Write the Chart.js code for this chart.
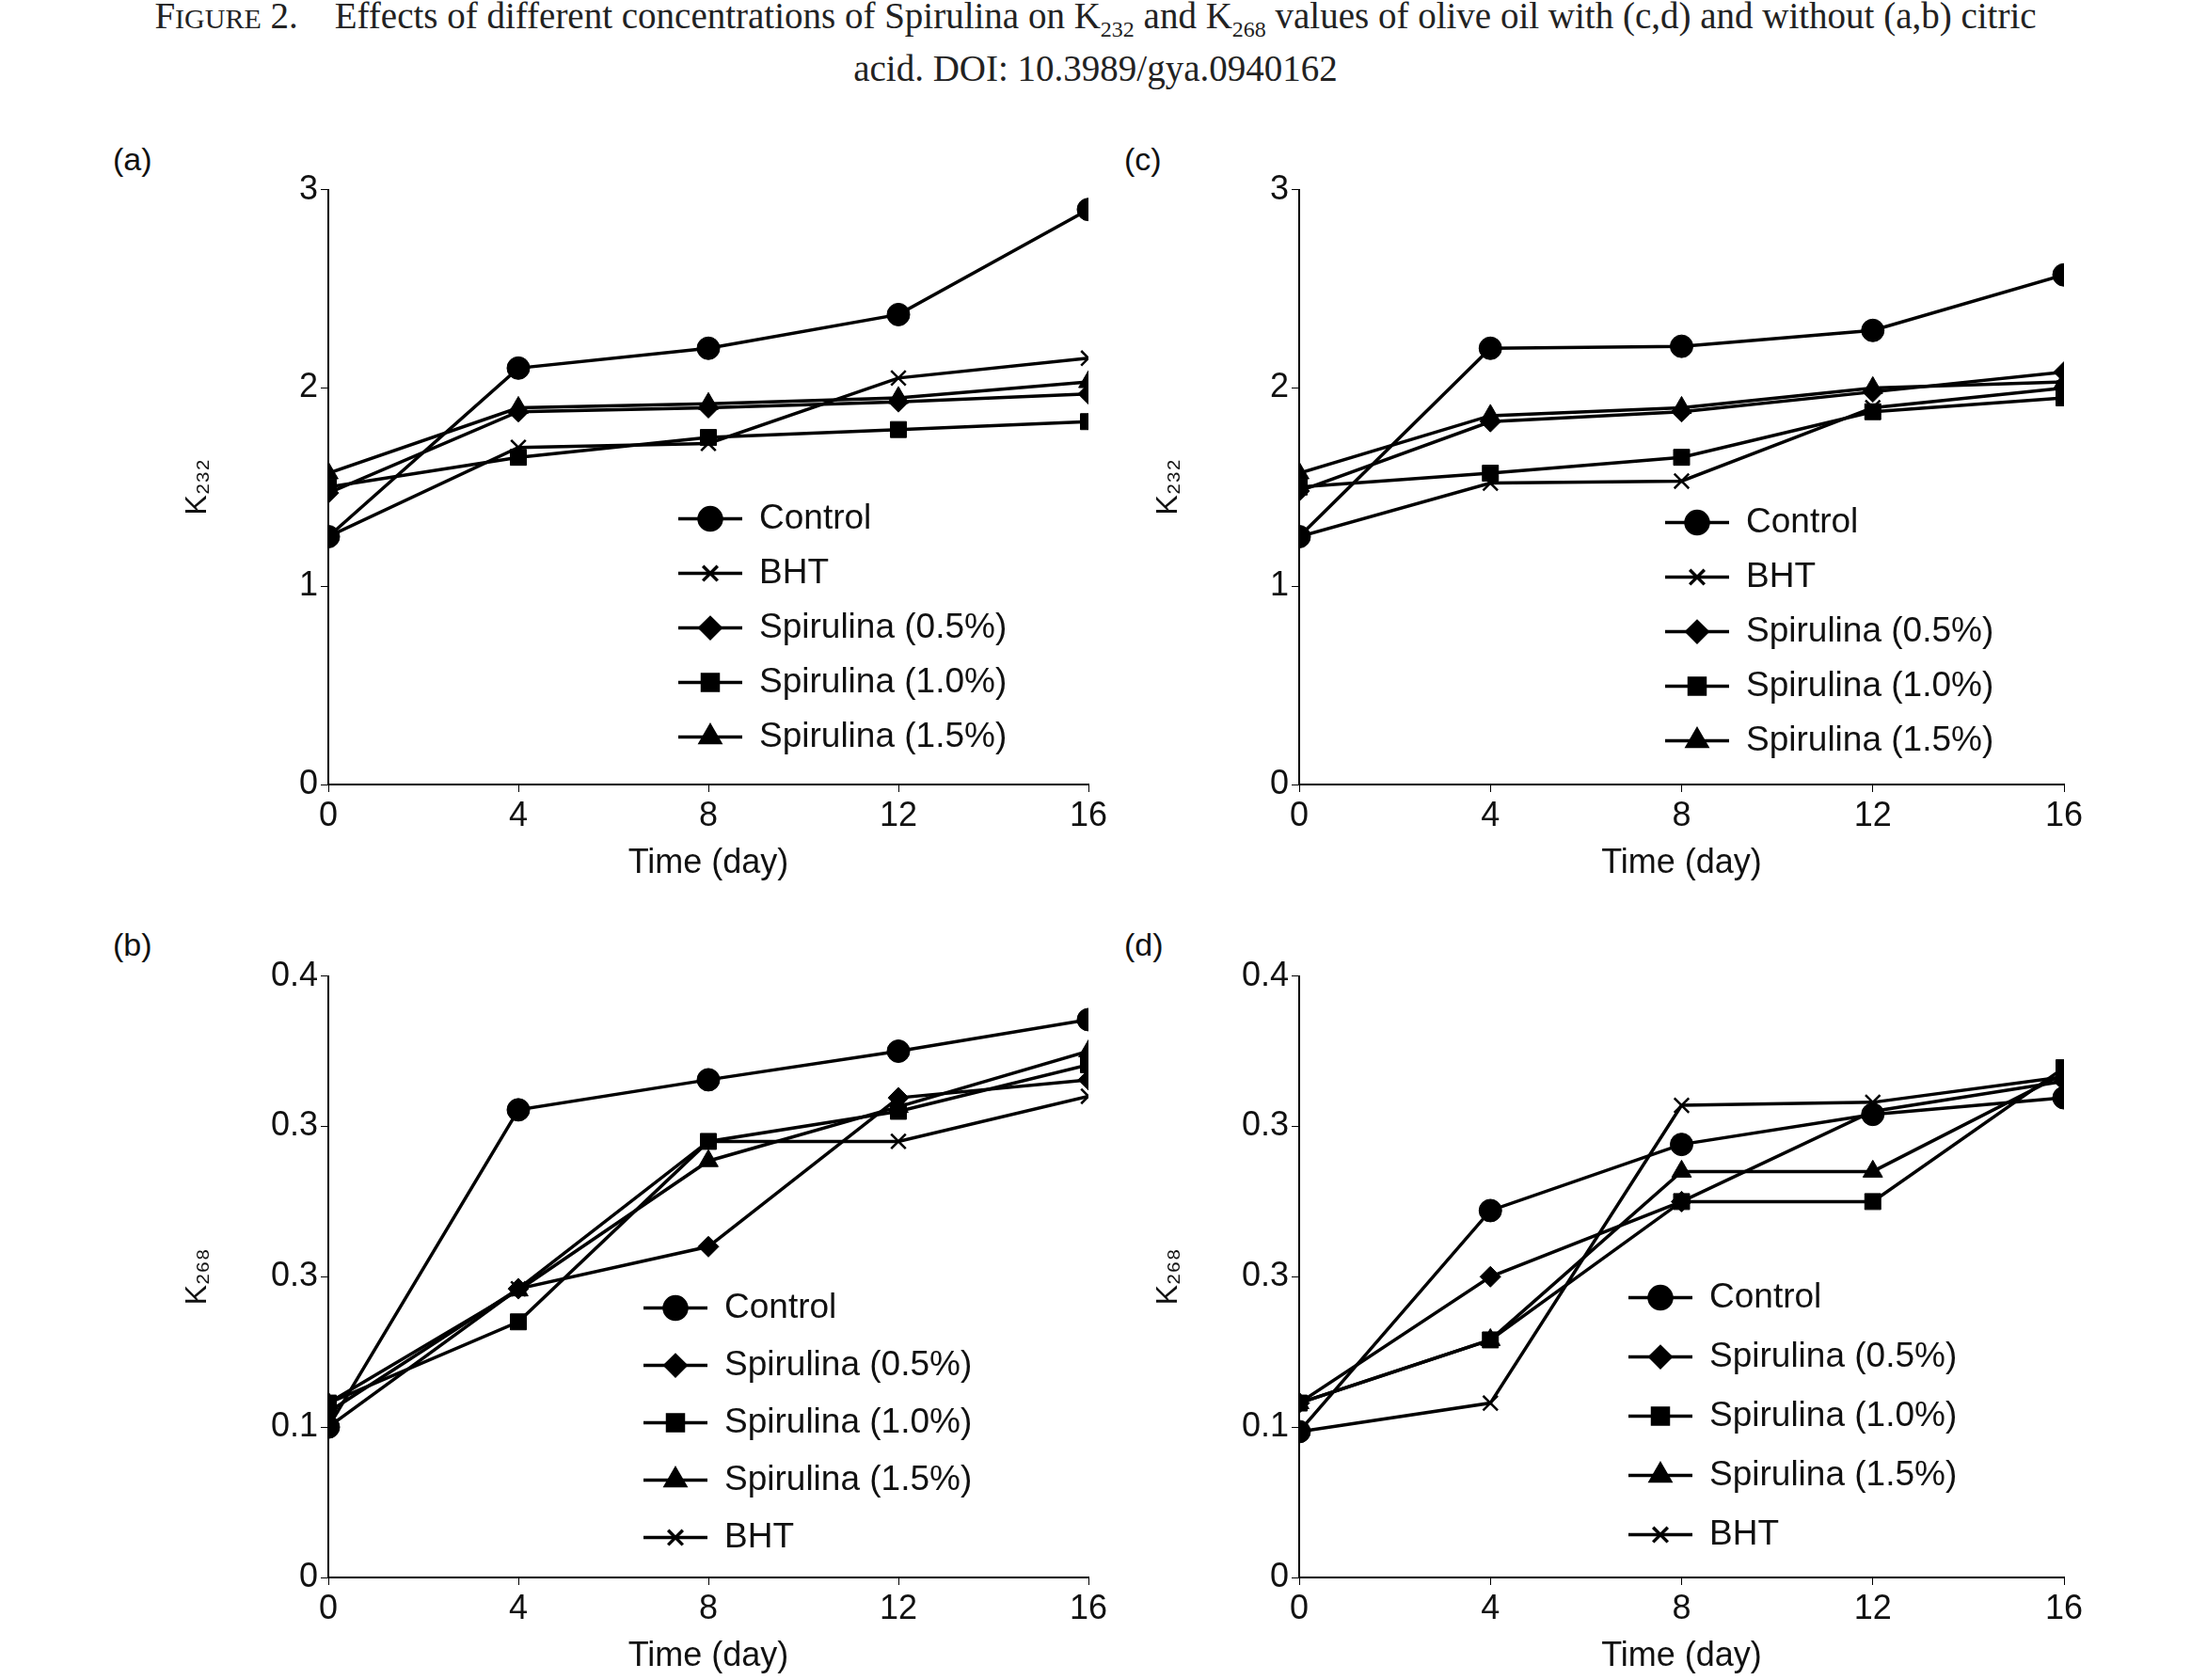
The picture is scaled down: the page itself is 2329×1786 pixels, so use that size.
<!DOCTYPE html>
<html><head><meta charset="utf-8">
<script src="https://cdn.jsdelivr.net/npm/chart.js@4"></script>
<style>
body{margin:0;background:#fff;width:2329px;height:1786px;position:relative;overflow:hidden;font-family:"Liberation Sans",Arial,sans-serif}
.t{position:absolute;left:0;width:2329px;text-align:center;font-family:"Liberation Serif",serif;font-size:39px;color:#222;line-height:42px}
.lab{position:absolute;font-size:34px;color:#111}
.c{position:absolute}
</style></head><body>
<div class="t" style="top:-4px">F<span style="font-size:30px">IGURE</span> 2.&nbsp;&nbsp;&nbsp; Effects of different concentrations of Spirulina on K<sub style="font-size:24px">232</sub> and K<sub style="font-size:24px">268</sub> values of olive oil with (c,d) and without (a,b) citric<br>acid. DOI: 10.3989/gya.0940162</div>
<div class="lab" style="left:120px;top:150px">(a)</div>
<div class="lab" style="left:1195px;top:150px">(c)</div>
<div class="lab" style="left:120px;top:985px">(b)</div>
<div class="lab" style="left:1195px;top:985px">(d)</div>
<canvas class="c" id="ca" style="left:187px;top:177px"></canvas>
<canvas class="c" id="cc" style="left:1219px;top:177px"></canvas>
<canvas class="c" id="cb" style="left:187px;top:1013px"></canvas>
<canvas class="c" id="cd" style="left:1219px;top:1013px"></canvas>
<script>
const days = [0, 4, 8, 12, 16];
const k268TickLabels = ['0', '0.1', '0.3', '0.3', '0.4'];
// Panel (a)
const aControl = [1.25, 2.10, 2.20, 2.37, 2.90];
const aBHT     = [1.25, 1.70, 1.72, 2.05, 2.15];
const aSp05    = [1.47, 1.88, 1.90, 1.93, 1.97];
const aSp10    = [1.50, 1.65, 1.75, 1.79, 1.83];
const aSp15    = [1.57, 1.90, 1.92, 1.95, 2.03];
// Panel (c)
const cControl = [1.25, 2.20, 2.21, 2.29, 2.57];
const cBHT     = [1.25, 1.52, 1.53, 1.90, 2.00];
const cSp05    = [1.48, 1.83, 1.88, 1.98, 2.08];
const cSp10    = [1.50, 1.57, 1.65, 1.88, 1.95];
const cSp15    = [1.57, 1.86, 1.90, 2.00, 2.03];
// Panel (b)
const bControl = [0.100, 0.311, 0.331, 0.350, 0.371];
const bSp05    = [0.110, 0.192, 0.220, 0.319, 0.331];
const bSp10    = [0.116, 0.170, 0.290, 0.310, 0.341];
const bSp15    = [0.116, 0.191, 0.277, 0.313, 0.350];
const bBHT     = [0.100, 0.192, 0.290, 0.290, 0.320];
// Panel (d)
const dControl = [0.097, 0.244, 0.288, 0.308, 0.319];
const dSp05    = [0.116, 0.200, 0.250, 0.310, 0.330];
const dSp10    = [0.116, 0.158, 0.250, 0.250, 0.339];
const dSp15    = [0.116, 0.158, 0.270, 0.270, 0.335];
const dBHT     = [0.097, 0.116, 0.314, 0.316, 0.333];

const styles = {'Control':'circle','BHT':'crossRot','Spirulina (0.5%)':'rectRot','Spirulina (1.0%)':'rect','Spirulina (1.5%)':'triangle'};
function ds(label, data){
  const s = styles[label];
  return {label, data, borderColor:'#000', backgroundColor:'#000', borderWidth:3.5,
    pointStyle:s, pointRadius: s==='rectRot'?11:(s==='crossRot'?11:12), pointBorderWidth: s==='crossRot'?2.5:1, pointBackgroundColor:'#000', pointBorderColor:'#000'};
}
const legendPlugin = {
  id:'inlegend',
  afterDraw(chart, args, opts){
    const ctx = chart.ctx, a = chart.chartArea;
    ctx.save();
    chart.data.datasets.forEach((d,i)=>{
      const x = a.left + opts.x, y = a.top + opts.y + i*opts.gap;
      ctx.strokeStyle='#000'; ctx.lineWidth=3.5;
      ctx.beginPath(); ctx.moveTo(x,y); ctx.lineTo(x+68,y); ctx.stroke();
      ctx.fillStyle='#000';
      Chart.helpers.drawPoint(ctx,{pointStyle:d.pointStyle, radius:d.pointRadius, rotation:0, borderWidth:d.pointBorderWidth}, x+34, y);
      ctx.fillStyle='#111'; ctx.font='37px "Liberation Sans", Arial'; ctx.textBaseline='middle';
      ctx.fillText(d.label, x+86, y);
    });
    ctx.restore();
  }
};
function make(id, w, h, datasets, ymax, step, yTitle, labels, leg){
  const cv = document.getElementById(id);
  cv.width = w; cv.height = h; cv.style.width=w+'px'; cv.style.height=h+'px';
  new Chart(cv, {
    type:'line',
    data:{labels:days, datasets},
    options:{
      responsive:false, animation:false, devicePixelRatio:1,
      layout:{padding:{top:22,right:30,left:0,bottom:0}},
      plugins:{legend:{display:false}, tooltip:{enabled:false}, inlegend:leg},
      scales:{
        x:{type:'linear', min:0, max:16, afterBuildTicks(s){s.ticks=days.map(v=>({value:v}));},
          grid:{drawOnChartArea:false, color:'#000', tickLength:8},
          border:{color:'#000', width:2},
          ticks:{color:'#111', font:{size:36, family:'"Liberation Sans", Arial'}, padding:4},
          title:{display:true, text:'Time (day)', color:'#111', font:{size:36, family:'"Liberation Sans", Arial'}, padding:{top:8}},
          afterFit(s){s.height=110;}},
        y:{min:0, max:ymax, ticks:{stepSize:step, color:'#111', font:{size:36, family:'"Liberation Sans", Arial'},
            callback:(v,i)=> labels ? labels[i] : String(v)},
          grid:{drawOnChartArea:false, color:'#000', tickLength:8},
          border:{color:'#000', width:2},
          title:{display:true, text:yTitle, color:'#111', font:{size:32, family:'"Liberation Sans", Arial'}},
          afterFit(s){s.width=162;}}
      }
    },
    plugins:[legendPlugin]
  });
}
make('ca', 1000, 767, [ds('Control',aControl),ds('BHT',aBHT),ds('Spirulina (0.5%)',aSp05),ds('Spirulina (1.0%)',aSp10),ds('Spirulina (1.5%)',aSp15)], 3, 1, 'K₂₃₂', null, {x:372,y:350,gap:58});
make('cc', 1005, 767, [ds('Control',cControl),ds('BHT',cBHT),ds('Spirulina (0.5%)',cSp05),ds('Spirulina (1.0%)',cSp10),ds('Spirulina (1.5%)',cSp15)], 3, 1, 'K₂₃₂', null, {x:389,y:354,gap:58});
make('cb', 1000, 774, [ds('Control',bControl),ds('Spirulina (0.5%)',bSp05),ds('Spirulina (1.0%)',bSp10),ds('Spirulina (1.5%)',bSp15),ds('BHT',bBHT)], 0.4, 0.1, 'K₂₆₈', k268TickLabels, {x:335,y:353,gap:61});
make('cd', 1005, 774, [ds('Control',dControl),ds('Spirulina (0.5%)',dSp05),ds('Spirulina (1.0%)',dSp10),ds('Spirulina (1.5%)',dSp15),ds('BHT',dBHT)], 0.4, 0.1, 'K₂₆₈', k268TickLabels, {x:350,y:342,gap:63});
</script>
</body></html>
